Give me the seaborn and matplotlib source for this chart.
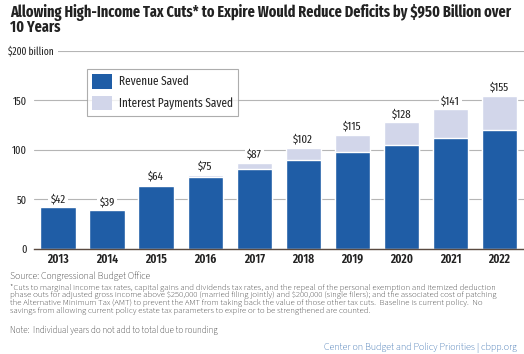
import pandas as pd
import matplotlib.pyplot as plt
import seaborn as sns
import numpy as np
from matplotlib.patches import Patch

# Data (billions of dollars)
years = ['2013', '2014', '2015', '2016', '2017', '2018', '2019', '2020', '2021', '2022']
revenue_saved = [42, 39, 64, 73, 81, 90, 98, 105, 112, 120]
interest_saved = [0, 0, 0.5, 2, 6, 12, 17, 23, 29, 35]
total_labels = ['$42', '$39', '$64', '$75', '$87', '$102', '$115', '$128', '$141', '$155']
y_ticks = [0, 50, 100, 150, 200]
y_tick_labels = ['0', '50', '100', '150', '']

dark_blue = '#1f5da6'
light_blue = '#d2d6ea'
narrow = ['Fira Sans Extra Condensed', 'PT Sans Narrow', 'DejaVu Sans']
body = ['Source Sans 3', 'PT Sans', 'DejaVu Sans']

sns.set_theme(style='white')
plt.rcParams['font.family'] = narrow

df = pd.DataFrame({'Year': years, 'Revenue': revenue_saved, 'Interest': interest_saved})
df['Total'] = df['Revenue'] + df['Interest']

fig = plt.figure(figsize=(5.24, 3.54), dpi=100)
ax = fig.add_axes([0.064, 0.297, 0.936, 0.559])

sns.barplot(data=df, x='Year', y='Total', color=light_blue, width=0.72,
            saturation=1, ax=ax, zorder=2)
sns.barplot(data=df, x='Year', y='Revenue', color=dark_blue, width=0.72,
            saturation=1, ax=ax, zorder=3)

for i, lab in enumerate(total_labels):
    ax.text(i, df['Total'][i] + 3, lab, ha='center', va='bottom', fontsize=8.5,
            color='#222222', zorder=4, parse_math=False,
            bbox=dict(facecolor='white', edgecolor='none', pad=1.5))

ax.set_ylim(0, 200)
ax.set_xlim(-0.5, 9.5)
ax.set_yticks(y_ticks)
ax.set_yticklabels(y_tick_labels, fontsize=8, color='#222222')
ax.tick_params(axis='x', labelsize=9, pad=9.9, length=0, labelcolor='#222222')
ax.tick_params(axis='y', pad=5, length=0)
for lab in ax.get_xticklabels():
    lab.set_fontweight('semibold')
    lab.set_verticalalignment('baseline')
ax.set_xlabel('')
ax.set_ylabel('')
ax.yaxis.grid(True, color='#b5b5b5', linewidth=0.8, zorder=0)
ax.set_axisbelow(True)
sns.despine(ax=ax, left=True, right=True, top=True)
ax.spines['bottom'].set_color('#5a4a40')
ax.spines['bottom'].set_linewidth(1)
ax.spines['bottom'].set_zorder(5)

# top tick label sits to the left, over the start of its gridline
fig.text(0.016, 0.856, '$200 billion', ha='left', va='center', fontsize=7.4,
         color='#222222', parse_math=False,
         bbox=dict(facecolor='white', edgecolor='none', pad=3))

handles = [Patch(facecolor=dark_blue, edgecolor='none'),
           Patch(facecolor=light_blue, edgecolor='none')]
leg = ax.legend(handles, ['Revenue Saved', 'Interest Payments Saved'],
                loc='upper left', bbox_to_anchor=(0.109, 0.909), fontsize=8.8,
                frameon=True, fancybox=False, edgecolor='#999999',
                handlelength=1.64, handleheight=1.47, borderpad=0.42,
                labelspacing=0.57, handletextpad=0.54, borderaxespad=0)
leg.get_frame().set_linewidth(0.8)

# title, fitted to the width used in the original
t1 = fig.text(0.019, 0.953, 'Allowing High-Income Tax Cuts* to Expire Would Reduce Deficits by $950 Billion over',
              ha='left', va='baseline', fontsize=13, fontweight='bold', color='#222222',
              parse_math=False)
renderer = fig.canvas.get_renderer()
w = t1.get_window_extent(renderer).width
title_size = 13 * 503 / w
t1.set_fontsize(title_size)
fig.text(0.019, 0.910, '10 Years', ha='left', va='baseline', fontsize=title_size,
         fontweight='bold', color='#222222')

fig.text(0.019, 0.219, 'Source: Congressional Budget Office', fontsize=7, va='center',
         color='#1a1a1a', family=body)
fig.text(0.019, 0.155,
         '*Cuts to marginal income tax rates, capital gains and dividends tax rates, and the repeal of the personal exemption and itemized deduction\n'
         'phase outs for adjusted gross income above $250,000 (married filing jointly) and $200,000 (single filers); and the associated cost of patching\n'
         'the Alternative Minimum Tax (AMT) to prevent the AMT from taking back the value of those other tax cuts.  Baseline is current policy.  No\n'
         'savings from allowing current policy estate tax parameters to expire or to be strengthened are counted.',
         fontsize=6.3, va='center', color='#1a1a1a', linespacing=0.95, family=body,
         parse_math=False)
fig.text(0.019, 0.066, 'Note:  Individual years do not add to total due to rounding', fontsize=6.5,
         va='center', color='#1a1a1a', family=body)
fig.text(0.987, 0.019, 'Center on Budget and Policy Priorities | cbpp.org', fontsize=7.2,
         ha='right', va='center', color='#1f5da6', family=body)

fig.savefig('out.png', dpi=100)
